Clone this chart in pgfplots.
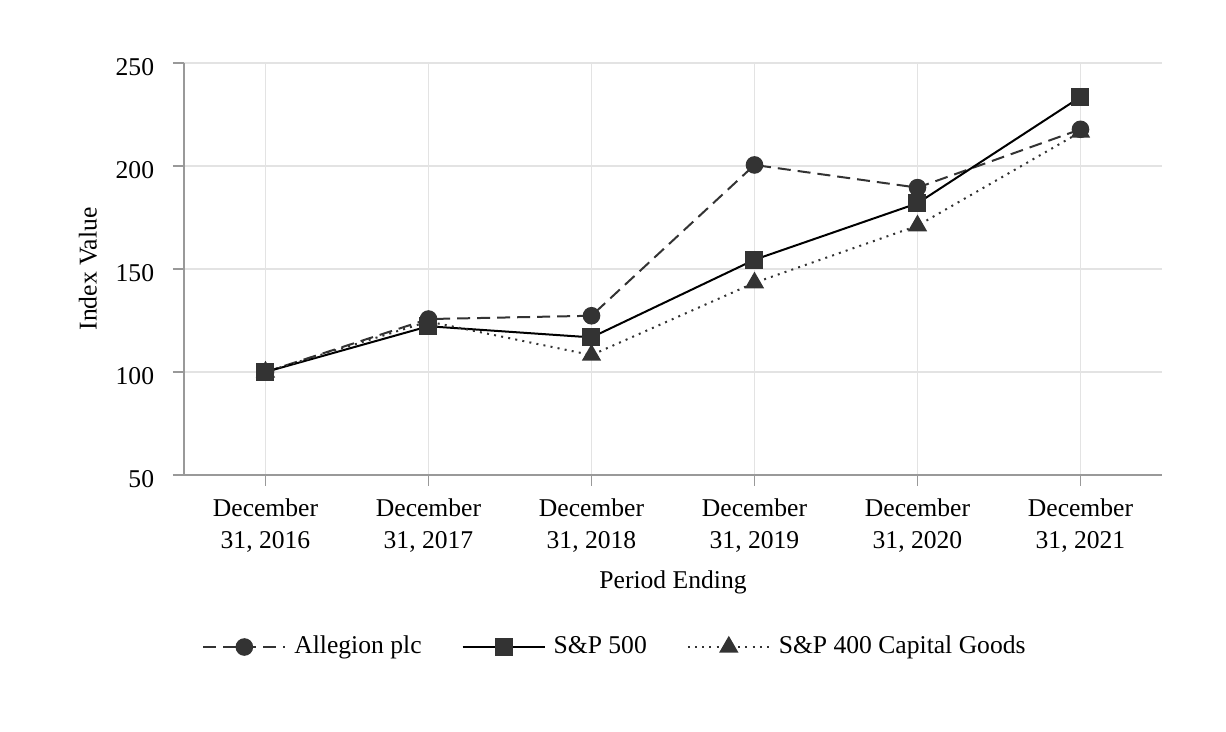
\documentclass[border=0pt]{standalone}
\usepackage{fontspec}
\setmainfont{Liberation Serif}
\usepackage{pgfplots}
\pgfplotsset{compat=1.18}
\definecolor{mk}{HTML}{333333}
\definecolor{gridc}{HTML}{E3E3E3}
\definecolor{axc}{HTML}{999999}
\begin{document}
\fontsize{12.8}{16}\selectfont
\begin{tikzpicture}
\path[use as bounding box] (-92pt,-128.5pt) rectangle (521pt,237.5pt);
\begin{axis}[
  at={(0,0)}, anchor=south west,
  scale only axis, width=489pt, height=206pt,
  xmin=-0.5, xmax=5.5, ymin=50, ymax=250,
  xtick={0,1,2,3,4,5},
  xticklabels={{December\\31, 2016}, {December\\31, 2017}, {December\\31, 2018}, {December\\31, 2019}, {December\\31, 2020}, {December\\31, 2021}},
  ytick={50,100,150,200,250},
  /pgf/number format/assume math mode=true,
  font=\fontsize{12.8}{16}\selectfont,
  xticklabel style={align=center, yshift=-2pt},
  yticklabel style={xshift=-5pt, yshift=-2pt},
  axis x line*=bottom, axis y line*=left,
  axis line style={axc, line width=0.8pt},
  x axis line style={-}, y axis line style={-},
  tick align=outside, tick style={axc, line width=0.8pt}, major tick length=5.5pt,
  grid=major, grid style={gridc, line width=0.8pt},
  xlabel={Period Ending}, ylabel={Index Value},
  xlabel style={at={(axis description cs:0.5,-0.2599)}, anchor=center},
  ylabel style={at={(axis description cs:-0.0982,0.5)}, anchor=center},
  legend columns=3,
  legend style={draw=none, fill=none, at={(axis description cs:0.4417,-0.4175)}, anchor=center,
    font=\fontsize{12.8}{16}\selectfont,
    /tikz/every odd column/.append style={column sep=2pt},
    /tikz/every even column/.append style={column sep=18pt}},
  legend image code/.code={\draw[mark repeat=2,mark phase=2] plot coordinates {(0pt,0pt)(20.5pt,0pt)(41pt,0pt)};},
  clip=false,
]
\addplot[mk, line width=1pt, dash pattern=on 6.5pt off 3.5pt, mark=*, mark size=3.9pt, mark options={solid, fill=mk, draw=mk}]
  coordinates {(0,100) (1,125.7) (2,127.3) (3,200.5) (4,189.5) (5,217.8)};
\addlegendentry{Allegion plc}
\addplot[black, line width=1pt, mark=square*, mark size=4pt, mark options={solid, fill=mk, draw=mk}]
  coordinates {(0,100) (1,122.2) (2,116.8) (3,154.5) (4,181.9) (5,233.5)};
\addlegendentry{S\&P 500}
\addplot[mk, line width=1pt, dash pattern=on 1pt off 2.6pt, mark=triangle*, mark size=4.6pt, mark options={solid, fill=mk, draw=mk}]
  coordinates {(0,100) (1,124.5) (2,108.2) (3,143.3) (4,171) (5,216.5)};
\addlegendentry{S\&P 400 Capital Goods}
\end{axis}
\end{tikzpicture}
\end{document}
